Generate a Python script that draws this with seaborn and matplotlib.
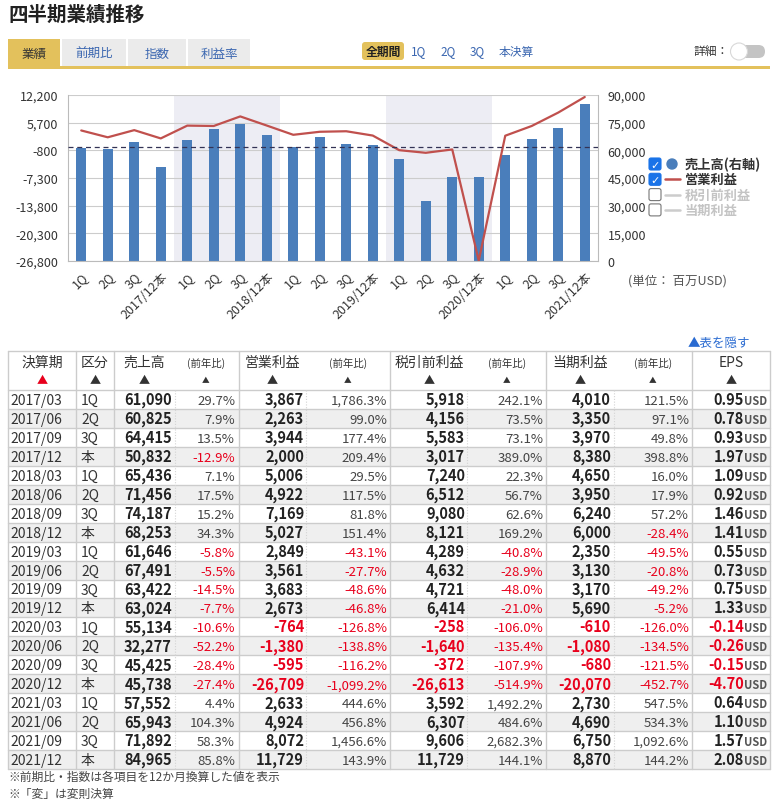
import numpy as np
import pandas as pd
import seaborn as sns
import matplotlib.pyplot as plt
from matplotlib.patches import Rectangle, FancyBboxPatch, Circle

# data (millions of USD)
periods = ["2017/03", "2017/06", "2017/09", "2017/12", "2018/03", "2018/06", "2018/09", "2018/12",
           "2019/03", "2019/06", "2019/09", "2019/12", "2020/03", "2020/06", "2020/09", "2020/12",
           "2021/03", "2021/06", "2021/09", "2021/12"]
kubun = ["1Q", "2Q", "3Q", "本"] * 5
sales = [61090, 60825, 64415, 50832, 65436, 71456, 74187, 68253, 61646, 67491,
         63422, 63024, 55134, 32277, 45425, 45738, 57552, 65943, 71892, 84965]
sales_yoy = [29.7, 7.9, 13.5, -12.9, 7.1, 17.5, 15.2, 34.3, -5.8, -5.5,
             -14.5, -7.7, -10.6, -52.2, -28.4, -27.4, 4.4, 104.3, 58.3, 85.8]
op_income = [3867, 2263, 3944, 2000, 5006, 4922, 7169, 5027, 2849, 3561,
             3683, 2673, -764, -1380, -595, -26709, 2633, 4924, 8072, 11729]
op_yoy = [1786.3, 99.0, 177.4, 209.4, 29.5, 117.5, 81.8, 151.4, -43.1, -27.7,
          -48.6, -46.8, -126.8, -138.8, -116.2, -1099.2, 444.6, 456.8, 1456.6, 143.9]
pretax = [5918, 4156, 5583, 3017, 7240, 6512, 9080, 8121, 4289, 4632,
          4721, 6414, -258, -1640, -372, -26613, 3592, 6307, 9606, 11729]
pretax_yoy = [242.1, 73.5, 73.1, 389.0, 22.3, 56.7, 62.6, 169.2, -40.8, -28.9,
              -48.0, -21.0, -106.0, -135.4, -107.9, -514.9, 1492.2, 484.6, 2682.3, 144.1]
net_income = [4010, 3350, 3970, 8380, 4650, 3950, 6240, 6000, 2350, 3130,
              3170, 5690, -610, -1080, -680, -20070, 2730, 4690, 6750, 8870]
net_yoy = [121.5, 97.1, 49.8, 398.8, 16.0, 17.9, 57.2, -28.4, -49.5, -20.8,
           -49.2, -5.2, -126.0, -134.5, -121.5, -452.7, 547.5, 534.3, 1092.6, 144.2]
eps = [0.95, 0.78, 0.93, 1.97, 1.09, 0.92, 1.46, 1.41, 0.55, 0.73,
       0.75, 1.33, -0.14, -0.26, -0.15, -4.70, 0.64, 1.10, 1.57, 2.08]

left_ticks = [-26800, -20300, -13800, -7300, -800, 5700, 12200]
right_ticks = [0, 15000, 30000, 45000, 60000, 75000, 90000]
xlabels = [k if k != "本" else p[:7] + "本" for p, k in zip(periods, kubun)]

sns.set_style("white")
plt.rcParams["font.family"] = ["Noto Sans CJK JP", "DejaVu Sans"]
plt.rcParams["axes.unicode_minus"] = False

BAR = "#4a7ebb"
RED = "#c0504d"
NEG = "#e8001c"
TXT = "#333333"
BLUE = "#3a66b0"
GOLD = "#e3c15c"
LINE = "#cccccc"

W, H = 777, 803
fig = plt.figure(figsize=(W / 100, H / 100), dpi=100)

# background axes in pixel units for header, legend and table
bg = fig.add_axes([0, 0, 1, 1])
bg.set_xlim(0, W)
bg.set_ylim(H, 0)
bg.axis("off")

# header
bg.text(8, 15, "四半期業績推移", fontsize=14, fontweight="bold", color="#222", va="center")
tabs = [("業績", 8, 60), ("前期比", 62, 126), ("指数", 128, 186), ("利益率", 188, 250)]
for i, (name, x0, x1) in enumerate(tabs):
    bg.add_patch(Rectangle((x0, 40), x1 - x0, 28, color=GOLD if i == 0 else "#ebebeb", lw=0))
    bg.text((x0 + x1) / 2, 54, name, fontsize=9, ha="center", va="center",
            color=TXT if i == 0 else BLUE)
bg.add_patch(Rectangle((8, 67), 762, 3, color=GOLD, lw=0))
bg.add_patch(FancyBboxPatch((362, 43), 42, 18, boxstyle="round,pad=0,rounding_size=3", color=GOLD, lw=0))
bg.text(383, 52, "全期間", fontsize=8.5, fontweight="bold", ha="center", va="center", color="#222")
for label, x in [("1Q", 419), ("2Q", 448), ("3Q", 477), ("本決算", 516)]:
    bg.text(x, 52, label, fontsize=8.5, ha="center", va="center", color=BLUE)
bg.text(693, 52, "詳細：", fontsize=8.5, ha="left", va="center", color=TXT)
bg.add_patch(FancyBboxPatch((733, 46), 32, 13, boxstyle="round,pad=0,rounding_size=6.5", color="#c4c4c4", lw=0))
bg.add_patch(Circle((739, 52.5), 8.5, facecolor="white", edgecolor="#d8d8d8", lw=0.8))

# chart
L, R, T, B = 68, 598, 96, 262
ax = fig.add_axes([L / W, 1 - B / H, (R - L) / W, (B - T) / H])
xpos = np.arange(len(periods))
df = pd.DataFrame({"x": xpos, "sales": sales, "op": op_income})
ax.axvspan(3.5, 7.5, color="#ededf4", lw=0, zorder=0)
ax.axvspan(11.5, 15.5, color="#ededf4", lw=0, zorder=0)
sns.barplot(data=df, x="x", y="sales", native_scale=True, width=0.38, color=BAR,
            saturation=1, linewidth=0, ax=ax, zorder=2)

ax2 = ax.twinx()
sns.lineplot(data=df, x="x", y="op", color=RED, lw=1.6, ax=ax2)
ax2.axhline(0, color="#333355", lw=0.9, ls=(0, (4, 3)))

ax.set_xlim(-0.5, len(periods) - 0.5)
ax.set_ylim(0, 90000)
ax.set_yticks(right_ticks)
ax.set_yticklabels([f"{v:,}" for v in right_ticks])
ax.yaxis.tick_right()
ax.set_xticks(xpos)
ax.set_xticklabels(xlabels, rotation=45, ha="right", rotation_mode="anchor")
ax.set_xticks(np.arange(-0.5, len(periods), 1), minor=True)
ax.tick_params(axis="x", which="major", length=0, pad=6, labelsize=9, labelcolor=TXT)
ax.tick_params(axis="x", which="minor", direction="in", length=5, color=LINE)
ax.tick_params(axis="y", length=0, pad=7, labelsize=9, labelcolor=TXT)
ax.set_xlabel("")
ax.set_ylabel("")
ax.yaxis.grid(True, color=LINE, lw=0.8)
ax.set_axisbelow(True)
for s in ax.spines.values():
    s.set_color("#bbbbbb")
    s.set_linewidth(0.8)
ax.spines["top"].set_visible(False)

ax2.set_ylim(left_ticks[0], left_ticks[-1])
ax2.set_yticks(left_ticks)
ax2.set_yticklabels([f"{v:,}" for v in left_ticks])
ax2.yaxis.tick_left()
ax2.tick_params(axis="y", length=0, pad=7, labelsize=9, labelcolor=TXT)
ax2.set_ylabel("")
for s in ax2.spines.values():
    s.set_visible(False)

# legend
legend_rows = [("売上高(右軸)", True, "dot"), ("営業利益", True, "line"),
               ("税引前利益", False, "line"), ("当期利益", False, "line")]
for i, (name, on, kind) in enumerate(legend_rows):
    y = 165 + i * 15.3
    if on:
        bg.add_patch(FancyBboxPatch((649, y - 6), 12, 12, boxstyle="round,pad=0,rounding_size=2",
                                    facecolor="#1a73e8", edgecolor="#1a73e8", lw=0.8))
        bg.text(655, y + 0.5, "✓", fontsize=8, color="white", fontweight="bold",
                ha="center", va="center", family="DejaVu Sans")
    else:
        bg.add_patch(FancyBboxPatch((649, y - 6), 12, 12, boxstyle="round,pad=0,rounding_size=2",
                                    facecolor="white", edgecolor="#767676", lw=0.8))
    if kind == "dot":
        bg.add_patch(Circle((672, y), 5, color=BAR))
    else:
        bg.plot([665, 680], [y, y], color=RED if on else "#cccccc", lw=1.8)
    bg.text(685, y, name, fontsize=9.5, fontweight="bold", va="center",
            color=TXT if on else "#c4c4c4")
bg.text(628, 281, "(単位： 百万USD)", fontsize=9, va="center", color="#555555")

# table
bg.text(750, 343, "▲表を隠す", fontsize=9, ha="right", va="center", color="#2a6bd1")
top, head_h, row_h = 352, 39, 18.95
n = len(periods)
bottom = top + head_h + n * row_h
for i in range(n):
    y0 = top + head_h + i * row_h
    if i % 2 == 1:
        bg.add_patch(Rectangle((8, y0), 762, row_h, color="#efefef", lw=0))
for i in range(n + 1):
    y0 = top + head_h + i * row_h
    bg.plot([8, 770], [y0, y0], color=LINE, lw=1)
bg.plot([8, 770], [top, top], color=LINE, lw=1)
for x in [8, 76, 114, 239, 390, 546, 692, 770]:
    bg.plot([x, x], [top, bottom], color=LINE, lw=1)
for x in [175, 306, 467, 614]:
    bg.plot([x, x], [top + head_h, bottom], color="#d4d4d4", lw=0.8, ls=(0, (1, 1.5)))

headers = [("決算期", 42, 10, NEG), ("区分", 95, 10, TXT), ("売上高", 144, 10, TXT),
           ("(前年比)", 206, 7.5, TXT), ("営業利益", 272, 10, TXT), ("(前年比)", 348, 7.5, TXT),
           ("税引前利益", 429, 10, TXT), ("(前年比)", 507, 7.5, TXT), ("当期利益", 580, 10, TXT),
           ("(前年比)", 653, 7.5, TXT), ("EPS", 731, 10, TXT)]
for name, x, fs, arrow_col in headers:
    bg.text(x, 363, name, fontsize=fs, ha="center", va="center", color=TXT)
    bg.text(x, 381, "▲", fontsize=fs - 2, ha="center", va="center", color=arrow_col)

def yoy_text(v):
    return f"{v:,.1f}%"

for i in range(n):
    yb = top + head_h + i * row_h + row_h / 2 + 4.5
    bg.text(10, yb, periods[i], fontsize=10, va="baseline", color=TXT)
    bg.text(81, yb, kubun[i], fontsize=10, va="baseline", color=TXT)
    groups = [(sales[i], sales_yoy[i], 172, 235), (op_income[i], op_yoy[i], 304, 387),
              (pretax[i], pretax_yoy[i], 465, 543), (net_income[i], net_yoy[i], 611, 689)]
    for val, yoy, xv, xy in groups:
        bg.text(xv, yb, f"{val:,}", fontsize=10.5, fontweight="bold", ha="right", va="baseline",
                color=NEG if val < 0 else "#222")
        bg.text(xy, yb, yoy_text(yoy), fontsize=9.5, ha="right", va="baseline",
                color=NEG if yoy < 0 else "#444")
    bg.text(744, yb, f"{eps[i]:.2f}", fontsize=10.5, fontweight="bold", ha="right", va="baseline",
            color=NEG if eps[i] < 0 else "#222")
    bg.text(767, yb, "USD", fontsize=8, fontweight="bold", ha="right", va="baseline", color="#555")

bg.text(8, 777, "※前期比・指数は各項目を12か月換算した値を表示", fontsize=8.5, va="center", color="#444")
bg.text(8, 794, "※「変」は変則決算", fontsize=8.5, va="center", color="#444")

fig.savefig("out.png", dpi=100)
